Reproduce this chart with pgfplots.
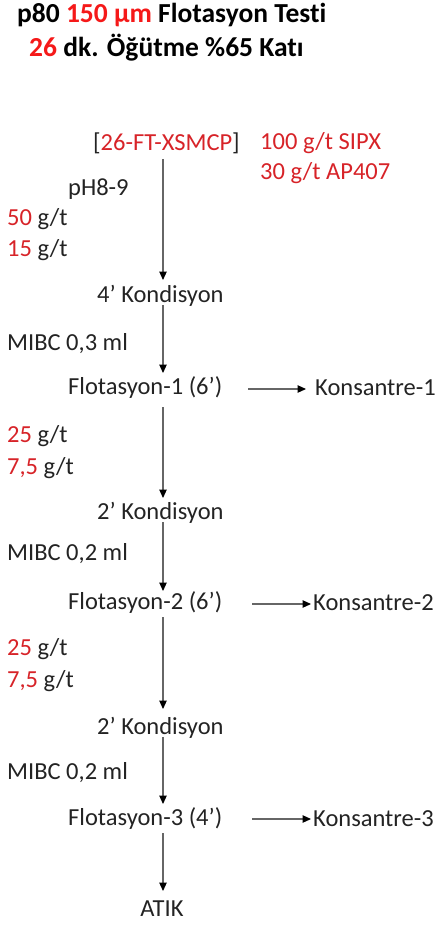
\documentclass[border=0pt]{standalone}
\usepackage{pgfplots}
\pgfplotsset{compat=1.18}
\usepackage{fontspec}
\setmainfont{Carlito}[Ligatures=NoCommon]
\usetikzlibrary{arrows.meta}
\definecolor{rd}{RGB}{215,35,40}
\definecolor{rdt}{RGB}{245,25,25}
\definecolor{tx}{RGB}{35,35,35}
\begin{document}
\begin{tikzpicture}
\tikzset{arr/.style={solid, no marks, draw=black!60, line width=1.1bp, -{Triangle[length=8.5bp,width=7.5bp,color=black]}}}
\begin{axis}[
  hide axis, scale only axis, width=443bp, height=925bp,
  xmin=0, xmax=443, ymin=0, ymax=925, y dir=reverse, clip=false,
]
% vertical arrows (x, y in pixel units)
\addplot[arr] coordinates {(163,159) (163,280)};
\addplot[arr] coordinates {(163,305) (163,373)};
\addplot[arr] coordinates {(163,407) (163,498)};
\addplot[arr] coordinates {(163,522) (163,591)};
\addplot[arr] coordinates {(163,617) (163,709)};
\addplot[arr] coordinates {(163,737) (163,804)};
\addplot[arr] coordinates {(163,833) (163,891)};
% horizontal arrows
\addplot[arr] coordinates {(248,389) (306,389)};
\addplot[arr] coordinates {(252,604) (311,604)};
\addplot[arr] coordinates {(252,819) (311,819)};

\tikzset{t/.style={font=\fontsize{24.5bp}{29bp}\selectfont, text=tx, inner sep=0pt, anchor=west},
  tb/.style={t, font=\fontsize{27.5bp}{32bp}\selectfont\bfseries, text=black}}
\node[tb] at (axis cs:17,15) {p80 {\color{rdt}150 µm} Flotasyon Testi};
\node[tb] at (axis cs:29,48) {{\color{rdt}26} dk. Öğütme \%65 Katı};

\node[t] at (axis cs:93,143) {[{\color{rd}26-FT-XSMCP}]};
\node[t, text=rd] at (axis cs:260,143) {100 g/t SIPX};
\node[t, text=rd] at (axis cs:260,173) {30 g/t AP407};
\node[t] at (axis cs:68,189) {pH8-9};
\node[t] at (axis cs:7,219) {{\color{rd}50} g/t};
\node[t] at (axis cs:7,250) {{\color{rd}15} g/t};
\node[t] at (axis cs:97,296) {4’ Kondisyon};
\node[t] at (axis cs:7,344) {MIBC 0,3 ml};
\node[t] at (axis cs:68,388) {Flotasyon-1 (6’)};
\node[t] at (axis cs:315,388) {Konsantre-1};
\node[t] at (axis cs:7,436) {{\color{rd}25} g/t};
\node[t] at (axis cs:7,468) {{\color{rd}7,5} g/t};
\node[t] at (axis cs:97,513) {2’ Kondisyon};
\node[t] at (axis cs:7,554) {MIBC 0,2 ml};
\node[t] at (axis cs:68,603) {Flotasyon-2 (6’)};
\node[t] at (axis cs:313,603) {Konsantre-2};
\node[t] at (axis cs:7,649) {{\color{rd}25} g/t};
\node[t] at (axis cs:7,681) {{\color{rd}7,5} g/t};
\node[t] at (axis cs:97,728) {2’ Kondisyon};
\node[t] at (axis cs:7,773) {MIBC 0,2 ml};
\node[t] at (axis cs:68,819) {Flotasyon-3 (4’)};
\node[t] at (axis cs:313,819) {Konsantre-3};
\node[t, anchor=center] at (axis cs:162,909) {ATIK};
\end{axis}
\pgfresetboundingbox
\useasboundingbox (0,0) rectangle (443bp,925bp);
\end{tikzpicture}
\end{document}
